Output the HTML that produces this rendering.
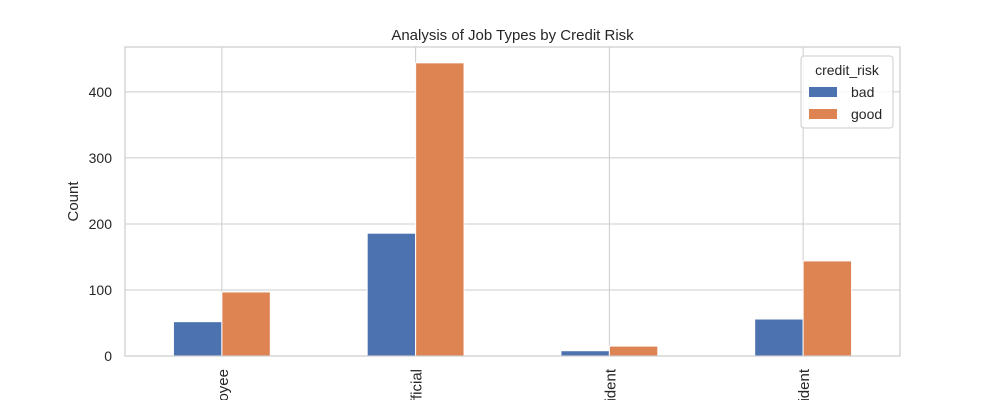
<!DOCTYPE html>
<html><head><meta charset="utf-8"><style>
html,body{margin:0;padding:0;background:#fff;width:1000px;height:400px;overflow:hidden}
svg{display:block;overflow:hidden}
svg text{font-family:"Liberation Sans","DejaVu Sans",sans-serif;fill:#262626}
</style></head><body>
<svg id="chart" width="1000" height="400"></svg>
<script>
const categories=["manager/self-empl./highly qualif. employee","skilled employee/official","unemployed/unskilled - non-resident","unskilled - resident"];
const badValues=[52,186,8,56];
const goodValues=[97,444,15,144];
const yTicks=[0,100,200,300,400];
const seriesNames=["bad","good"];
const colors=["#4c72b0","#dd8452"];
const L=125,R=900,T=47,B=356,yMax=468;
const NS="http://www.w3.org/2000/svg";
const svg=document.getElementById('chart');
function y(v){return B-(v/yMax)*(B-T);}
function xc(i){return L+(R-L)*(i+0.5)/categories.length;}
function mk(t,a,p){const e=document.createElementNS(NS,t);for(const k in a)e.setAttribute(k,a[k]);(p||svg).appendChild(e);return e;}
const bw=(R-L)/categories.length*0.25;
yTicks.forEach(v=>{
 const g=mk('line',{x1:L,x2:R,y1:y(v),y2:y(v),stroke:'#cccccc','stroke-width':1});
 
 
 const t=mk('text',{x:L-13,y:y(v)+5,'text-anchor':'end','font-size':14});
 t.textContent=v;
 
 
});
categories.forEach((c,i)=>{
 const g=mk('line',{x1:xc(i),x2:xc(i),y1:T,y2:B,stroke:'#cccccc','stroke-width':1});
 
 
});
[badValues,goodValues].forEach((arr,s)=>{
 arr.forEach((v,i)=>{
  const x=xc(i)+(s===0?-bw:0);
  const r=mk('rect',{x:x,y:y(v),width:bw,height:B-y(v),fill:colors[s],stroke:'#fff','stroke-width':1});
  
  
 });
});
categories.forEach((c,i)=>{
 const t=mk('text',{x:0,y:0,'text-anchor':'end','font-size':15,transform:`translate(${xc(i)+6},369) rotate(-90)`});
 t.textContent=c;
 
 
});
const fr=mk('rect',{x:L,y:T,width:R-L,height:B-T,fill:'none',stroke:'#cccccc','stroke-width':1.2});


const title=mk('text',{x:(L+R)/2,y:40,'text-anchor':'middle','font-size':15});
title.textContent='Analysis of Job Types by Credit Risk';


const yl=mk('text',{x:0,y:0,'text-anchor':'middle','font-size':15,transform:`translate(78,${(T+B)/2}) rotate(-90)`});
yl.textContent='Count';


const lg=mk('g',{});


mk('rect',{x:801,y:56,width:92,height:72,rx:3,fill:'#fff','fill-opacity':0.8,stroke:'#cccccc'},lg);
const lt=mk('text',{x:847,y:75,'text-anchor':'middle','font-size':14},lg);
lt.textContent='credit_risk';


seriesNames.forEach((n,s)=>{
 const yy=87+s*22;
 const sw=mk('rect',{x:809,y:yy,width:28,height:10,fill:colors[s]},lg);
 
 
 const t=mk('text',{x:851,y:yy+10,'font-size':14},lg);
 t.textContent=n;
 
 
});
</script>
</body></html>
